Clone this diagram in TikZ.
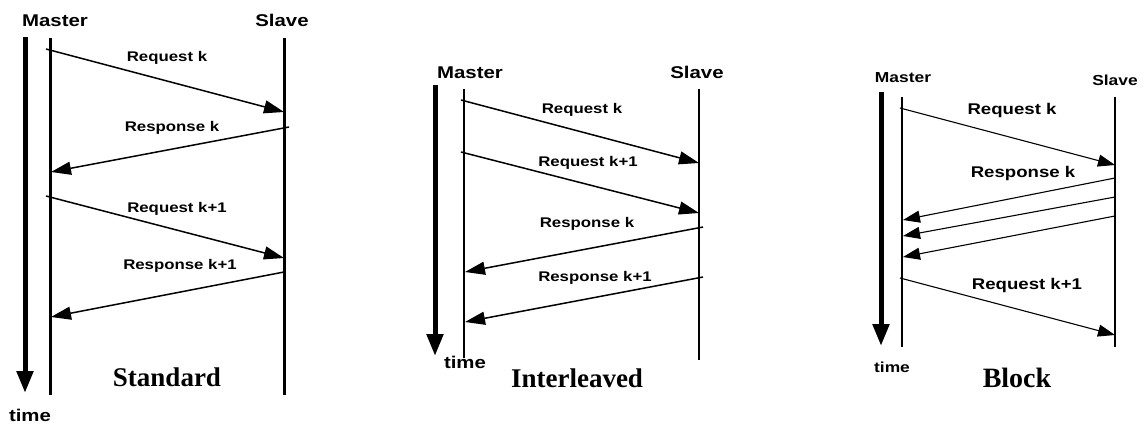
\documentclass[tikz,border=0pt]{standalone}
\usepackage{fontspec}
\setmainfont{Liberation Serif}
\newfontfamily\labfont[FakeStretch=1.2]{Liberation Sans}
\usetikzlibrary{arrows.meta}
\begin{document}
\begin{tikzpicture}[x=1pt,y=-1pt,
  lbl/.style={font=\labfont\bfseries\fontsize{14}{16}\selectfont, inner sep=0pt},
  lblc/.style={font=\labfont\bfseries\fontsize{15.5}{17}\selectfont, inner sep=0pt},
  hdr/.style={font=\labfont\bfseries\fontsize{17}{19}\selectfont, inner sep=0pt},
  hdrc/.style={font=\labfont\bfseries\fontsize{14.5}{17}\selectfont, inner sep=0pt},
  ttl/.style={font=\bfseries\fontsize{27}{30}\selectfont, inner sep=0pt},
  lifea/.style={line width=3pt},
  lifeb/.style={line width=2pt},
  lifec/.style={line width=1.3pt},
  timeax/.style={line width=5pt, -{Triangle[length=22pt,width=16pt]}},
  msg/.style={line width=1.5pt, -{Triangle[length=20pt,width=13pt]}},
  msgc/.style={line width=1.1pt, -{Triangle[length=17pt,width=12pt]}},
]
\useasboundingbox (0,0) rectangle (1145,425);

% ---------------- Standard ----------------
\coordinate (t1t) at (25,37);  \coordinate (t1b) at (25,393);
\coordinate (m1t) at (50,38);  \coordinate (m1b) at (50,395);
\coordinate (s1t) at (284,38); \coordinate (s1b) at (284,395);
\draw[timeax] (t1t) -- (t1b);
\draw[lifea] (m1t) -- (m1b);
\draw[lifea] (s1t) -- (s1b);
\node[hdr] (mst1) at (55,21) {Master};
\node[hdr] (slv1) at (282,20) {Slave};
\node[hdr] (tim1) at (30,415) {time};
\coordinate (a1s) at (46,49);  \coordinate (a1e) at (284,112);
\coordinate (b1s) at (289,127); \coordinate (b1e) at (51,172);
\coordinate (c1s) at (46,196); \coordinate (c1e) at (284,258);
\coordinate (d1s) at (284,272); \coordinate (d1e) at (51,317);
\draw[msg] (a1s) -- (a1e);
\draw[msg] (b1s) -- (b1e);
\draw[msg] (c1s) -- (c1e);
\draw[msg] (d1s) -- (d1e);
\node[lbl] (la1) at (167,58) {Request k};
\node[lbl] (lb1) at (172,128) {Response k};
\node[lbl] (lc1) at (177,209) {Request k+1};
\node[lbl] (ld1) at (180,266) {Response k+1};
\node[ttl] (std) at (167,377) {Standard};

% ---------------- Interleaved ----------------
\coordinate (t2t) at (435,85);  \coordinate (t2b) at (435,356);
\coordinate (m2t) at (464,89);  \coordinate (m2b) at (464,358);
\coordinate (s2t) at (699,89);  \coordinate (s2b) at (699,360);
\draw[timeax] (t2t) -- (t2b);
\draw[lifeb] (m2t) -- (m2b);
\draw[lifeb] (s2t) -- (s2b);
\node[hdr] (mst2) at (470,73) {Master};
\node[hdr] (slv2) at (697,72) {Slave};
\node[hdr] (tim2) at (465,362) {time};
\coordinate (a2s) at (461,100); \coordinate (a2e) at (699,163);
\coordinate (b2s) at (461,152); \coordinate (b2e) at (699,213);
\coordinate (c2s) at (703,227); \coordinate (c2e) at (465,272);
\coordinate (d2s) at (703,277); \coordinate (d2e) at (465,322);
\draw[msg] (a2s) -- (a2e);
\draw[msg] (b2s) -- (b2e);
\draw[msg] (c2s) -- (c2e);
\draw[msg] (d2s) -- (d2e);
\node[lbl] (la2) at (582,110) {Request k};
\node[lbl] (lb2) at (588,163) {Request k+1};
\node[lbl] (lc2) at (587,224) {Response k};
\node[lbl] (ld2) at (595,278) {Response k+1};
\node[ttl] (ilv) at (577,378) {Interleaved};

% ---------------- Block ----------------
\coordinate (t3t) at (881,92);   \coordinate (t3b) at (881,346);
\coordinate (m3t) at (902,97);   \coordinate (m3b) at (902,347);
\coordinate (s3t) at (1115,97);  \coordinate (s3b) at (1115,347);
\draw[timeax] (t3t) -- (t3b);
\draw[lifec] (m3t) -- (m3b);
\draw[lifec] (s3t) -- (s3b);
\node[hdrc] (mst3) at (903,78) {Master};
\node[hdrc] (slv3) at (1115,80) {Slave};
\node[hdrc] (tim3) at (892,367) {time};
\coordinate (a3s) at (900,108);  \coordinate (a3e) at (1115,165);
\coordinate (b3s) at (1115,178); \coordinate (b3e) at (903,220);
\coordinate (c3s) at (1115,197); \coordinate (c3e) at (903,236);
\coordinate (d3s) at (1115,216); \coordinate (d3e) at (903,257);
\coordinate (e3s) at (900,278);  \coordinate (e3e) at (1115,335);
\draw[msgc] (a3s) -- (a3e);
\draw[msgc] (b3s) -- (b3e);
\draw[msgc] (c3s) -- (c3e);
\draw[msgc] (d3s) -- (d3e);
\draw[msgc] (e3s) -- (e3e);
\node[lblc] (la3) at (1012,110) {Request k};
\node[lblc] (lb3) at (1023,173) {Response k};
\node[lblc] (le3) at (1027,285) {Request k+1};
\node[ttl,font=\bfseries\fontsize{28}{30}\selectfont] (blk) at (1017,378) {Block};
\end{tikzpicture}
\end{document}
